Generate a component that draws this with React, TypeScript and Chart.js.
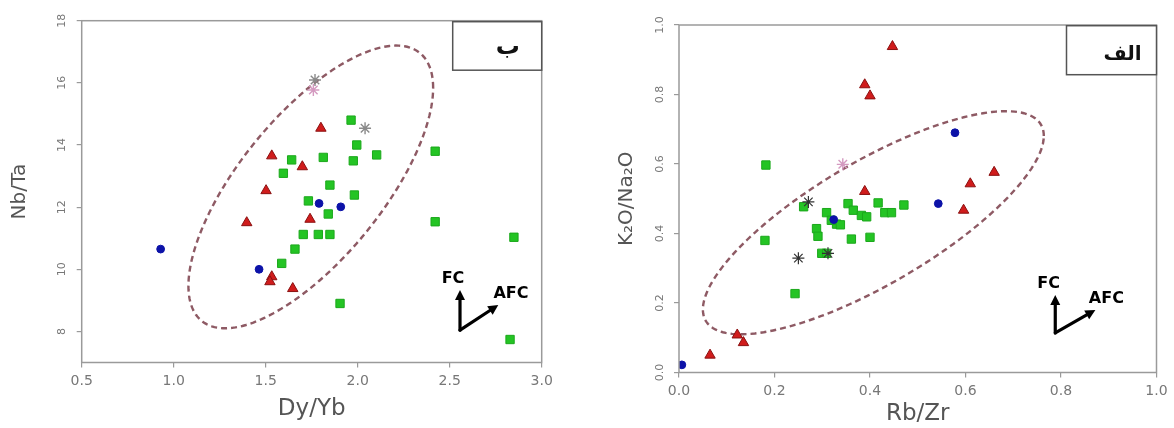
import React, { useEffect, useRef } from "react";
import { Chart, registerables } from "chart.js";

Chart.register(...registerables);

const FONT = "'DejaVu Sans', sans-serif";

// ---------------- Left panel (ب): Dy/Yb vs Nb/Ta ----------------
const L_X_TICKS = [0.5, 1.0, 1.5, 2.0, 2.5, 3.0];
const L_Y_TICKS = [8, 10, 12, 14, 16, 18];

const L_GREEN_X = [1.964, 1.995, 2.103, 1.813, 1.976, 1.641, 1.596, 1.849, 1.982, 1.732, 1.84, 1.704, 1.786, 1.849, 1.659, 1.587, 1.904, 2.421, 2.421, 2.849, 2.828];
const L_GREEN_Y = [14.8, 14.0, 13.68, 13.6, 13.49, 13.52, 13.09, 12.71, 12.39, 12.2, 11.78, 11.12, 11.12, 11.12, 10.65, 10.19, 8.9, 13.8, 11.53, 11.03, 7.74];
const L_RED_X = [1.8, 1.533, 1.699, 1.502, 1.397, 1.741, 1.533, 1.523, 1.647];
const L_RED_Y = [14.54, 13.65, 13.3, 12.53, 11.5, 11.61, 9.76, 9.6, 9.38];
const L_BLUE_X = [0.929, 1.464, 1.79, 1.908];
const L_BLUE_Y = [10.65, 10.0, 12.12, 12.01];
const L_GRAY_STAR_X = [2.04, 1.768];
const L_GRAY_STAR_Y = [14.54, 16.09];
const L_PINK_STAR_X = [1.759];
const L_PINK_STAR_Y = [15.77];

// ---------------- Right panel (الف): Rb/Zr vs K2O/Na2O ----------------
const R_X_TICKS = [0, 0.2, 0.4, 0.6, 0.8, 1.0];
const R_Y_TICKS = [0, 0.2, 0.4, 0.6, 0.8, 1.0];

const R_GREEN_X = [0.354, 0.365, 0.382, 0.393, 0.417, 0.431, 0.445, 0.471, 0.361, 0.4, 0.309, 0.288, 0.291, 0.33, 0.299, 0.309, 0.261, 0.18, 0.243, 0.182, 0.319, 0.338];
const R_GREEN_Y = [0.486, 0.467, 0.452, 0.448, 0.488, 0.46, 0.46, 0.482, 0.384, 0.389, 0.46, 0.414, 0.392, 0.427, 0.343, 0.343, 0.477, 0.38, 0.227, 0.597, 0.438, 0.425];
const R_RED_X = [0.447, 0.389, 0.4, 0.66, 0.61, 0.389, 0.596, 0.122, 0.135, 0.065];
const R_RED_Y = [0.938, 0.828, 0.796, 0.576, 0.543, 0.521, 0.467, 0.108, 0.086, 0.05];
const R_BLUE_X = [0.578, 0.543, 0.324, 0.006];
const R_BLUE_Y = [0.69, 0.486, 0.44, 0.022];
const R_BLACK_STAR_X = [0.25, 0.271, 0.312];
const R_BLACK_STAR_Y = [0.329, 0.491, 0.343];
const R_PINK_STAR_X = [0.343];
const R_PINK_STAR_Y = [0.599];

// ---------------- Styles ----------------
const GREEN = { pointStyle: "rect", pointRadius: 5.9, backgroundColor: "#24c424", borderColor: "#1ca81c", borderWidth: 1 };
const RED = { pointStyle: "triangle", pointRadius: 6, backgroundColor: "#d01c1c", borderColor: "#8a1010", borderWidth: 1 };
const BLUE = { pointStyle: "circle", pointRadius: 3.9, backgroundColor: "#0c12a8", borderColor: "#0c12a8", borderWidth: 1 };
const STAR_DARK = { pointStyle: "star", pointRadius: 6, backgroundColor: "rgba(0,0,0,0)", borderColor: "#333", borderWidth: 1.2 };
const STAR_GRAY = { pointStyle: "star", pointRadius: 6, backgroundColor: "rgba(0,0,0,0)", borderColor: "#8a8a8a", borderWidth: 1.4 };
const STAR_PINK = { pointStyle: "star", pointRadius: 6, backgroundColor: "rgba(0,0,0,0)", borderColor: "#d49ac0", borderWidth: 1.4 };

function pts(xs: number[], ys: number[]) {
  return xs.map((x, i) => ({ x, y: ys[i] }));
}

function drawArrow(ctx: CanvasRenderingContext2D, x0: number, y0: number, x1: number, y1: number) {
  const ang = Math.atan2(y1 - y0, x1 - x0);
  const hl = 10, hw = 5;
  const bx = x1 - hl * Math.cos(ang), by = y1 - hl * Math.sin(ang);
  ctx.beginPath();
  ctx.moveTo(x0, y0);
  ctx.lineTo(bx, by);
  ctx.stroke();
  ctx.beginPath();
  ctx.moveTo(x1, y1);
  ctx.lineTo(bx + hw * Math.sin(ang), by - hw * Math.cos(ang));
  ctx.lineTo(bx - hw * Math.sin(ang), by + hw * Math.cos(ang));
  ctx.closePath();
  ctx.fill();
}

interface Spec {
  canvasLeft: number;
  canvasWidth: number;
  area: { left: number; right: number; top: number; bottom: number };
  xRange: [number, number];
  yRange: [number, number];
  xTicks: number[];
  yTicks: number[];
  xFmt: (v: number) => string;
  yFmt: (v: number) => string;
  xTitle: string;
  yTitle: string;
  xTitleSize: number;
  xTitlePad: number;
  xAxisH: number;
  yTickPad: number;
  yTitlePad: number;
  datasets: any[];
  ellipse: { cx: number; cy: number; rx: number; ry: number; phase: number };
  arrow: { origin: [number, number]; up: [number, number]; diag: [number, number]; fc: [number, number]; afc: [number, number] };
  box: { w: number; h: number; dTop: number; label: string; dx: number; baseline: number; size: number };
}

function makeDecor(s: Spec) {
  return {
    id: "decor",
    beforeDatasetsDraw(chart: any) {
      const { ctx, scales } = chart;
      const x = scales.x, y = scales.y;
      const e = s.ellipse;
      ctx.save();
      ctx.beginPath();
      const N = 180;
      for (let i = 0; i <= N; i++) {
        const t = (i / N) * Math.PI * 2;
        const px = x.getPixelForValue(e.cx + e.rx * Math.cos(t));
        const py = y.getPixelForValue(e.cy + e.ry * Math.cos(t - e.phase));
        if (i === 0) ctx.moveTo(px, py);
        else ctx.lineTo(px, py);
      }
      ctx.closePath();
      ctx.setLineDash([6, 4]);
      ctx.strokeStyle = "#8e5a64";
      ctx.lineWidth = 2.4;
      ctx.stroke();
      ctx.restore();
    },
    afterDraw(chart: any) {
      const { ctx, chartArea: a, scales } = chart;
      const x = scales.x, y = scales.y;
      ctx.save();
      // frame
      ctx.strokeStyle = "#9a9a9a";
      ctx.lineWidth = 1.5;
      ctx.strokeRect(a.left, a.top, a.right - a.left, a.bottom - a.top);
      // label box
      const b = s.box;
      ctx.strokeStyle = "#555";
      ctx.lineWidth = 1.5;
      ctx.fillStyle = "#fff";
      ctx.fillRect(a.right - b.w, a.top + b.dTop, b.w, b.h);
      ctx.strokeRect(a.right - b.w, a.top + b.dTop, b.w, b.h);
      ctx.fillStyle = "#111";
      ctx.font = `bold ${b.size}px ${FONT}`;
      ctx.textAlign = "center";
      ctx.textBaseline = "alphabetic";
      ctx.fillText(b.label, a.right - b.dx, a.top + b.baseline);
      // arrows
      const ar = s.arrow;
      const ox = x.getPixelForValue(ar.origin[0]), oy = y.getPixelForValue(ar.origin[1]);
      ctx.strokeStyle = "#000";
      ctx.fillStyle = "#000";
      ctx.lineWidth = 3.2;
      ctx.lineCap = "round";
      ctx.lineJoin = "round";
      drawArrow(ctx, ox, oy, x.getPixelForValue(ar.up[0]), y.getPixelForValue(ar.up[1]));
      drawArrow(ctx, ox, oy, x.getPixelForValue(ar.diag[0]), y.getPixelForValue(ar.diag[1]));
      ctx.font = `bold 16px ${FONT}`;
      ctx.textAlign = "center";
      ctx.textBaseline = "middle";
      ctx.fillText("FC", x.getPixelForValue(ar.fc[0]), y.getPixelForValue(ar.fc[1]));
      ctx.fillText("AFC", x.getPixelForValue(ar.afc[0]), y.getPixelForValue(ar.afc[1]));
      ctx.restore();
    },
  };
}

function buildConfig(s: Spec): any {
  const grid = { display: true, drawOnChartArea: false, drawTicks: true, tickLength: 5, color: "#9a9a9a", lineWidth: 1.2 };
  return {
    type: "scatter",
    data: { datasets: s.datasets },
    plugins: [makeDecor(s)],
    options: {
      animation: false,
      responsive: false,
      events: [],
      layout: {
        padding: {
          left: 0,
          top: s.area.top,
          right: s.canvasWidth - s.area.right,
          bottom: 428 - s.area.bottom - s.xAxisH,
        },
      },
      plugins: { legend: { display: false }, tooltip: { enabled: false }, title: { display: false } },
      scales: {
        x: {
          type: "linear",
          min: s.xRange[0],
          max: s.xRange[1],
          afterBuildTicks: (sc: any) => {
            sc.ticks = s.xTicks.map((v) => ({ value: v }));
          },
          afterFit: (sc: any) => {
            sc.height = s.xAxisH;
          },
          ticks: {
            autoSkip: false,
            maxRotation: 0,
            minRotation: 0,
            padding: 5,
            color: "#777",
            font: { family: FONT, size: 14 },
            callback: (v: any) => s.xFmt(Number(v)),
          },
          grid,
          border: { display: false },
          title: {
            display: true,
            text: s.xTitle,
            color: "#555",
            font: { family: FONT, size: s.xTitleSize },
            padding: { top: 0, bottom: s.xTitlePad },
          },
        },
        y: {
          type: "linear",
          min: s.yRange[0],
          max: s.yRange[1],
          afterBuildTicks: (sc: any) => {
            sc.ticks = s.yTicks.map((v) => ({ value: v }));
          },
          afterFit: (sc: any) => {
            sc.width = s.area.left;
          },
          ticks: {
            autoSkip: false,
            minRotation: 90,
            maxRotation: 90,
            crossAlign: "center",
            padding: s.yTickPad,
            color: "#777",
            font: { family: FONT, size: 11 },
            callback: (v: any) => s.yFmt(Number(v)),
          },
          grid,
          border: { display: false },
          title: {
            display: true,
            text: s.yTitle,
            color: "#555",
            font: { family: FONT, size: 20 },
            padding: { top: s.yTitlePad, bottom: 0 },
          },
        },
      },
    },
  };
}

const LEFT: Spec = {
  canvasLeft: 0,
  canvasWidth: 590,
  area: { left: 81.7, right: 541.7, top: 20.7, bottom: 362.5 },
  xRange: [0.5, 3.0],
  yRange: [7, 18],
  xTicks: L_X_TICKS,
  yTicks: L_Y_TICKS,
  xFmt: (v) => v.toFixed(1),
  yFmt: (v) => String(Math.round(v)),
  xTitle: "Dy/Yb",
  yTitle: "Nb/Ta",
  xTitleSize: 23,
  xTitlePad: 5,
  xAxisH: 65,
  yTickPad: 8,
  yTitlePad: 8,
  datasets: [
    { label: "star-gray", data: pts(L_GRAY_STAR_X, L_GRAY_STAR_Y), ...STAR_GRAY },
    { label: "star-pink", data: pts(L_PINK_STAR_X, L_PINK_STAR_Y), ...STAR_PINK },
    { label: "blue", data: pts(L_BLUE_X, L_BLUE_Y), ...BLUE },
    { label: "red", data: pts(L_RED_X, L_RED_Y), ...RED },
    { label: "green", data: pts(L_GREEN_X, L_GREEN_Y), ...GREEN },
  ],
  ellipse: { cx: 1.745, cy: 12.65, rx: 0.665, ry: 4.55, phase: 0.795 },
  arrow: { origin: [2.556, 8.04], up: [2.556, 9.33], diag: [2.764, 8.85], fc: [2.518, 9.68], afc: [2.833, 9.2] },
  box: { w: 89, h: 48.5, dTop: 1, label: "ب", dx: 34, baseline: 33, size: 24 },
};

const RIGHT: Spec = {
  canvasLeft: 590,
  canvasWidth: 584,
  area: { left: 89, right: 566.5, top: 25, bottom: 372.5 },
  xRange: [0, 1],
  yRange: [0, 1],
  xTicks: R_X_TICKS,
  yTicks: R_Y_TICKS,
  xFmt: (v) => v.toFixed(1),
  yFmt: (v) => v.toFixed(1),
  xTitle: "Rb/Zr",
  yTitle: "K₂O/Na₂O",
  xTitleSize: 23,
  xTitlePad: 0,
  xAxisH: 55,
  yTickPad: 5.25,
  yTitlePad: 24.7,
  datasets: [
    { label: "star-dark", data: pts(R_BLACK_STAR_X, R_BLACK_STAR_Y), ...STAR_DARK },
    { label: "star-pink", data: pts(R_PINK_STAR_X, R_PINK_STAR_Y), ...STAR_PINK },
    { label: "blue", data: pts(R_BLUE_X, R_BLUE_Y), ...BLUE },
    { label: "red", data: pts(R_RED_X, R_RED_Y), ...RED },
    { label: "green", data: pts(R_GREEN_X, R_GREEN_Y), ...GREEN },
  ],
  ellipse: { cx: 0.407, cy: 0.431, rx: 0.357, ry: 0.321, phase: 0.68 },
  arrow: { origin: [0.788, 0.114], up: [0.788, 0.223], diag: [0.872, 0.18], fc: [0.774, 0.255], afc: [0.895, 0.212] },
  box: { w: 90, h: 49, dTop: 0.7, label: "الف", dx: 34, baseline: 35, size: 20 },
};

function Panel({ spec }: { spec: Spec }) {
  const ref = useRef<HTMLCanvasElement>(null);
  useEffect(() => {
    const chart = new Chart(ref.current as HTMLCanvasElement, buildConfig(spec));
    return () => chart.destroy();
  }, [spec]);
  return (
    <div style={{ position: "absolute", left: spec.canvasLeft, top: 0, width: spec.canvasWidth, height: 428 }}>
      <canvas ref={ref} width={spec.canvasWidth} height={428} style={{ width: spec.canvasWidth, height: 428, display: "block" }} />
    </div>
  );
}

export default function App() {
  return (
    <div style={{ position: "absolute", left: 0, top: 0, width: 1174, height: 428, background: "#fff", overflow: "hidden" }}>
      <Panel spec={LEFT} />
      <Panel spec={RIGHT} />
    </div>
  );
}
